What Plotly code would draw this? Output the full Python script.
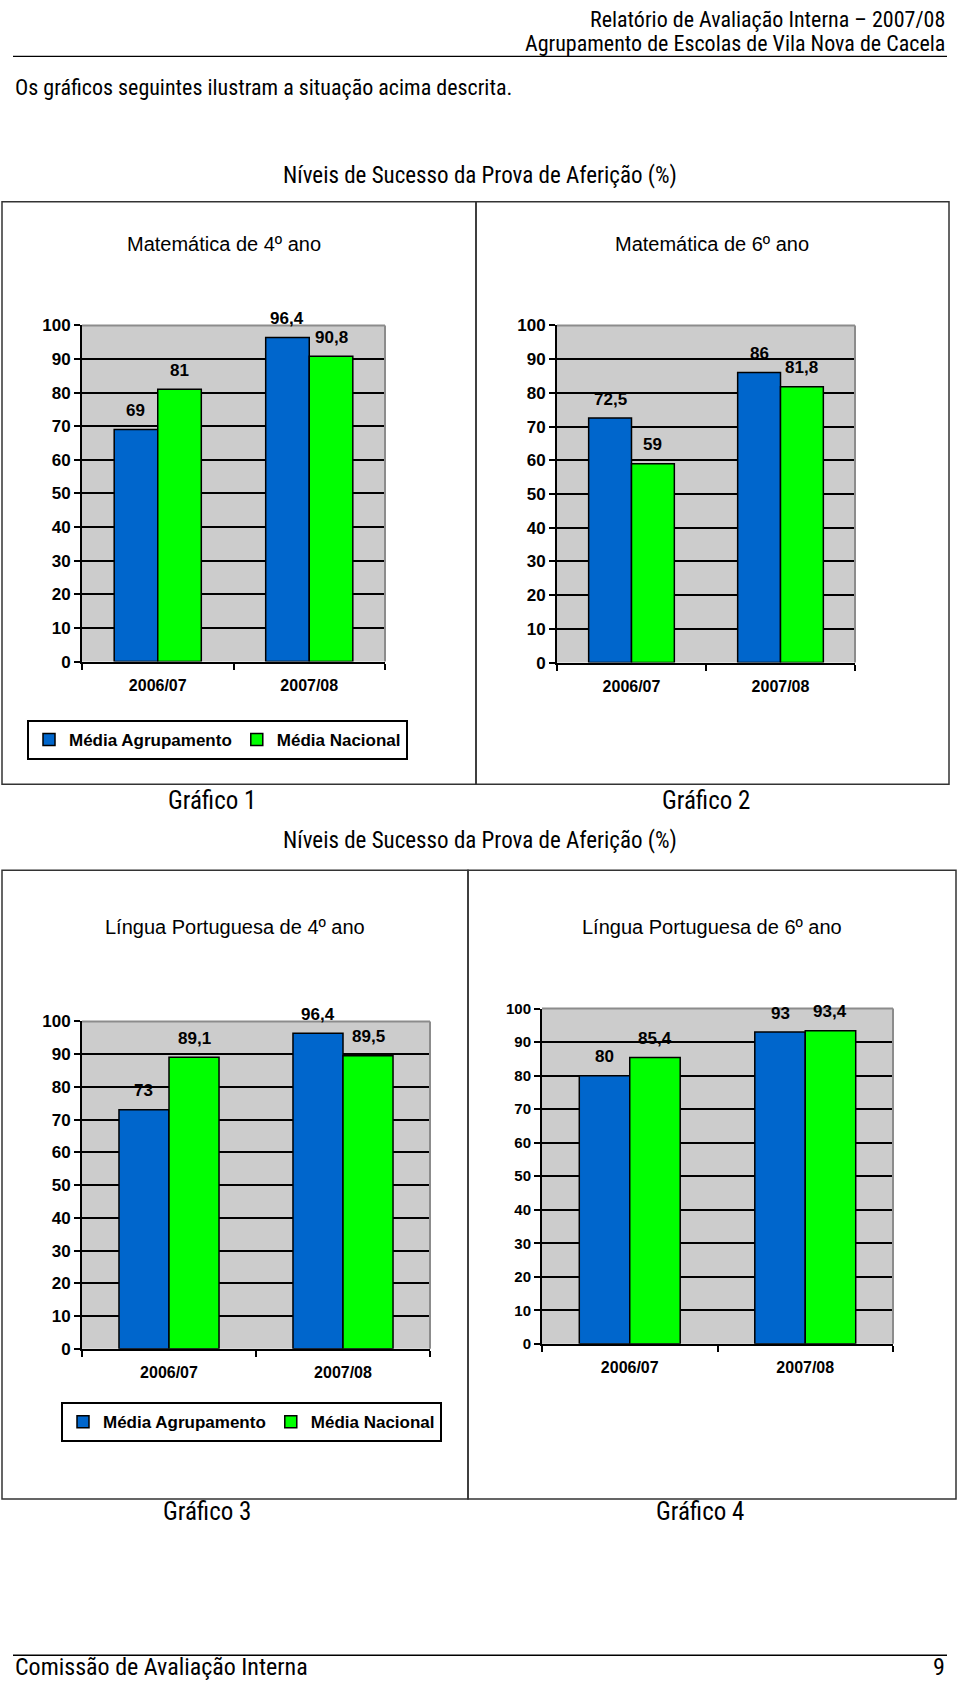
import plotly.graph_objects as go

W, H = 960, 1688

# ---------------- data ----------------
categories = ["2006/07", "2007/08"]
series_names = ["Média Agrupamento", "Média Nacional"]
mat4_agrup = [69, 96.4]
mat4_nac = [81, 90.8]
mat6_agrup = [72.5, 86]
mat6_nac = [59, 81.8]
lp4_agrup = [73, 96.4]
lp4_nac = [89.1, 89.5]
lp6_agrup = [80, 93]
lp6_nac = [85.4, 93.4]
y_ticks = list(range(0, 101, 10))
chart_titles = ["Matemática de 4º ano", "Matemática de 6º ano",
                "Língua Portuguesa de 4º ano", "Língua Portuguesa de 6º ano"]
captions = ["Gráfico 1", "Gráfico 2", "Gráfico 3", "Gráfico 4"]
section_title = "Níveis de Sucesso da Prova de Aferição (%)"

colors = ["#0066CC", "#00FF00"]
BARGAP = 0.425

NARROW = "Liberation Sans Narrow, Arial Narrow, Roboto Condensed, Liberation Sans, Arial"
SANS = "Liberation Sans, Arial, Helvetica, sans-serif"


def fx(p):
    return p / W


def fy(p):
    return 1 - p / H


def fmt(v):
    return f"{v:g}".replace(".", ",")


panels = [
    dict(series=(mat4_agrup, mat4_nac), dom=(82, 385, 320, 660), legend="legend",
         title_xy=(224, 238), cap_xy=(212, 801), tick_size=17),
    dict(series=(mat6_agrup, mat6_nac), dom=(557, 855, 320, 661), legend=None,
         title_xy=(712, 238), cap_xy=(706, 801), tick_size=17),
    dict(series=(lp4_agrup, lp4_nac), dom=(82, 430, 1024, 1355), legend="legend2",
         title_xy=(235, 928), cap_xy=(207, 1520), tick_size=17),
    dict(series=(lp6_agrup, lp6_nac), dom=(542, 893, 1011, 1350), legend=None,
         title_xy=(712, 928), cap_xy=(700, 1520), tick_size=15),
]

fig = go.Figure()
annotations = []
shapes = []

for i, p in enumerate(panels):
    sfx = "" if i == 0 else str(i + 1)
    xa, ya = "x" + sfx, "y" + sfx
    x0, x1, y0, y1 = p["dom"]
    for j, (name, vals) in enumerate(zip(series_names, p["series"])):
        fig.add_trace(go.Bar(
            x=categories, y=vals, name=name, xaxis=xa, yaxis=ya,
            offsetgroup=str(j),
            marker=dict(color=colors[j], line=dict(color="black", width=1.5)),
            showlegend=p["legend"] is not None,
            legend=p["legend"] if p["legend"] else "legend",
        ))
        off = (2 * j - 1) * (1 - BARGAP) / 4
        for k, v in enumerate(vals):
            annotations.append(dict(
                x=k + off, y=v, xref=xa, yref=ya, text=fmt(v), showarrow=False,
                yshift=19, font=dict(family=SANS, size=17, color="black", weight="bold"),
            ))
    fig.update_layout(**{
        "xaxis" + sfx: dict(
            domain=[fx(x0), fx(x1)], anchor=ya, type="category",
            showline=True, linecolor="black", linewidth=2,
            ticks="outside", tickson="boundaries", ticklen=6, tickwidth=2, tickcolor="black",
            showgrid=False, ticklabelstandoff=8,
            tickfont=dict(family=SANS, size=16, color="black", weight="bold"),
            fixedrange=True,
        ),
        "yaxis" + sfx: dict(
            domain=[fy(y1), fy(y0)], anchor=xa, range=[0, 100],
            tickvals=y_ticks, showgrid=True, gridcolor="black", gridwidth=1.6,
            showline=True, linecolor="black", linewidth=2, zeroline=False,
            ticks="outside", ticklen=6, tickwidth=2, tickcolor="black",
            tickfont=dict(family=SANS, size=p["tick_size"], color="black", weight="bold"),
            fixedrange=True,
        ),
    })
    # gray plot-area border (top & right)
    shapes.append(dict(type="line", xref=xa + " domain", yref=ya + " domain",
                       x0=0, x1=1, y0=1, y1=1, line=dict(color="#8c8c8c", width=2), layer="above"))
    shapes.append(dict(type="line", xref=xa + " domain", yref=ya + " domain",
                       x0=1, x1=1, y0=0, y1=1, line=dict(color="#8c8c8c", width=2), layer="above"))
    # chart title & caption
    tx, ty = p["title_xy"]
    annotations.append(dict(x=fx(tx), y=fy(ty), xref="paper", yref="paper", text=chart_titles[i],
                            showarrow=False, xanchor="center", yanchor="middle",
                            font=dict(family=SANS, size=20, color="black")))
    cx, cy = p["cap_xy"]
    annotations.append(dict(x=fx(cx), y=fy(cy), xref="paper", yref="paper", text=captions[i],
                            showarrow=False, xanchor="center", yanchor="middle",
                            font=dict(family=NARROW, size=25, color="black")))

# outer boxes of the charts
for (bx0, bx1, by0, by1) in [(2, 476, 195, 784), (476, 949, 195, 784),
                             (2, 468, 871, 1507), (468, 956, 871, 1507)]:
    shapes.append(dict(type="rect", xref="paper", yref="paper",
                       x0=fx(bx0), x1=fx(bx1), y0=fy(by1), y1=fy(by0),
                       line=dict(color="#333333", width=1.5), fillcolor="rgba(0,0,0,0)"))

# header / footer rules
for yy in (48, 1665):
    shapes.append(dict(type="line", xref="paper", yref="paper", x0=fx(13), x1=fx(947),
                       y0=fy(yy), y1=fy(yy), line=dict(color="black", width=1.3)))

page_text = [
    ("Relatório de Avaliação Interna – 2007/08", 947, 11, "right", 22),
    ("Agrupamento de Escolas de Vila Nova de Cacela", 947, 35, "right", 22),
    ("Os gráficos seguintes ilustram a situação acima descrita.", 13, 79, "left", 22),
    (section_title, 480, 168, "center", 23),
    (section_title, 480, 841, "center", 23),
    ("Comissão de Avaliação Interna", 13, 1677, "left", 24),
    ("9", 947, 1677, "right", 24),
]
for txt, x, y, anc, sz in page_text:
    annotations.append(dict(x=fx(x), y=fy(y), xref="paper", yref="paper", text=txt,
                            showarrow=False, xanchor=anc, yanchor="middle",
                            font=dict(family=NARROW, size=sz, color="black")))

legend_style = dict(orientation="h", xanchor="left", yanchor="top",
                    bgcolor="white", bordercolor="black", borderwidth=2,
                    font=dict(family=SANS, size=17, color="black", weight="bold"),
                    itemwidth=30, traceorder="normal")

fig.update_layout(
    width=W, height=H, autosize=False,
    margin=dict(l=0, r=0, t=0, b=0),
    paper_bgcolor="white", plot_bgcolor="#CCCCCC",
    barmode="group", bargap=BARGAP, bargroupgap=0,
    annotations=annotations, shapes=shapes,
    legend=dict(x=fx(27), y=fy(719), **legend_style),
    legend2=dict(x=fx(61), y=fy(1409), **legend_style),
    showlegend=True,
)

pin_page = (
    "document.documentElement.style.margin='0';"
    "document.body.style.margin='0';"
    "document.documentElement.style.overflow='hidden';"
    "document.body.style.overflow='hidden';"
    "var gd=document.getElementsByClassName('plotly-graph-div')[0];"
    "gd.style.position='fixed';gd.style.top='0px';gd.style.left='0px';"
)
fig.write_html("out.html", config={"displayModeBar": False}, post_script=pin_page)
